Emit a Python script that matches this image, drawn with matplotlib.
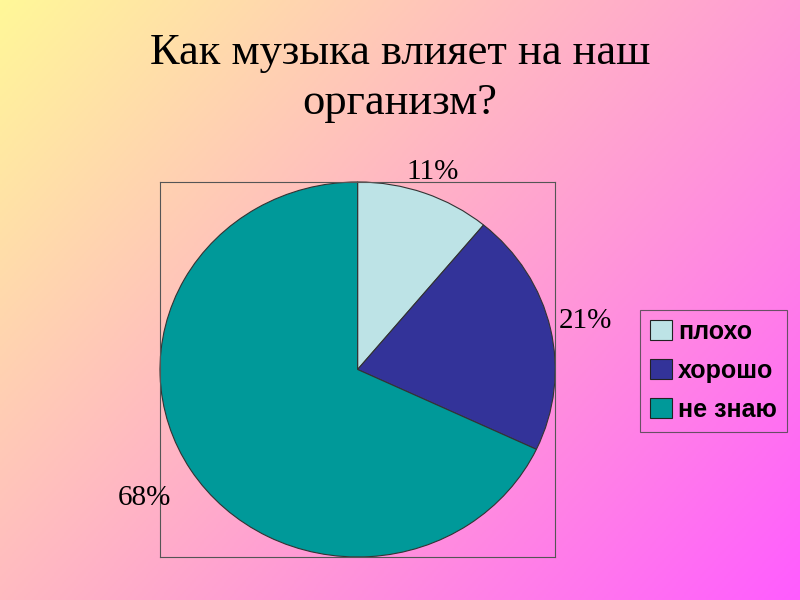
import numpy as np
import matplotlib.pyplot as plt
from matplotlib.patches import Patch

# data
categories = ['плохо', 'хорошо', 'не знаю']
values = [11, 21, 68]
colors = ['#BDE3E6', '#333399', '#009999']
title = 'Как музыка влияет на наш\nорганизм?'

fig = plt.figure(figsize=(8, 6), dpi=100)

# diagonal gradient background, yellow top-left to magenta bottom-right
bg = fig.add_axes([0, 0, 1, 1], zorder=-10)
xx, yy = np.meshgrid(np.linspace(0, 1, 400), np.linspace(0, 1, 300))
t = (xx * 0.6 + yy * 0.4)
c0 = np.array([255, 248, 152]) / 255
c1 = np.array([255, 92, 255]) / 255
img = c0[None, None, :] * (1 - t[..., None]) + c1[None, None, :] * t[..., None]
bg.imshow(img, aspect='auto', extent=[0, 1, 0, 1], origin='upper')
bg.axis('off')

fig.text(0.5, 0.87, title, ha='center', va='center', fontsize=32,
         family='Liberation Serif', linespacing=1.3)

ax = fig.add_axes([0.2, 0.0717, 0.494, 0.625])
wedges, _ = ax.pie(values, colors=colors, startangle=90, counterclock=False,
                   wedgeprops=dict(edgecolor='#333333', linewidth=0.8))
ax.set_aspect('auto')
ax.set_xlim(-1, 1)
ax.set_ylim(-1, 1)
ax.set_frame_on(True)
ax.patch.set_alpha(0)
for s in ax.spines.values():
    s.set_color('#555555')
    s.set_linewidth(0.8)
ax.set_xticks([])
ax.set_yticks([])

# percent labels outside the slices
dists = [1.12, 1.18, 1.28]
for w, v, d in zip(wedges, values, dists):
    ang = np.deg2rad((w.theta1 + w.theta2) / 2)
    ax.text(d * np.cos(ang), d * np.sin(ang), f'{v}%', ha='center', va='center',
            fontsize=21, family='Liberation Serif', clip_on=False)

handles = [Patch(facecolor=c, edgecolor='#222222', linewidth=0.8) for c in colors]
leg = fig.legend(handles, categories, loc='center', bbox_to_anchor=(0.892, 0.382),
                 frameon=True, fancybox=False, edgecolor='#444444',
                 prop=dict(family='Liberation Sans', size=18, weight='bold'),
                 handlelength=0.85, handleheight=0.85, handletextpad=0.25,
                 labelspacing=0.6, borderpad=0.4, borderaxespad=0)
leg.get_frame().set_facecolor('none')
leg.get_frame().set_linewidth(0.8)

fig.savefig('out.png', dpi=100)
